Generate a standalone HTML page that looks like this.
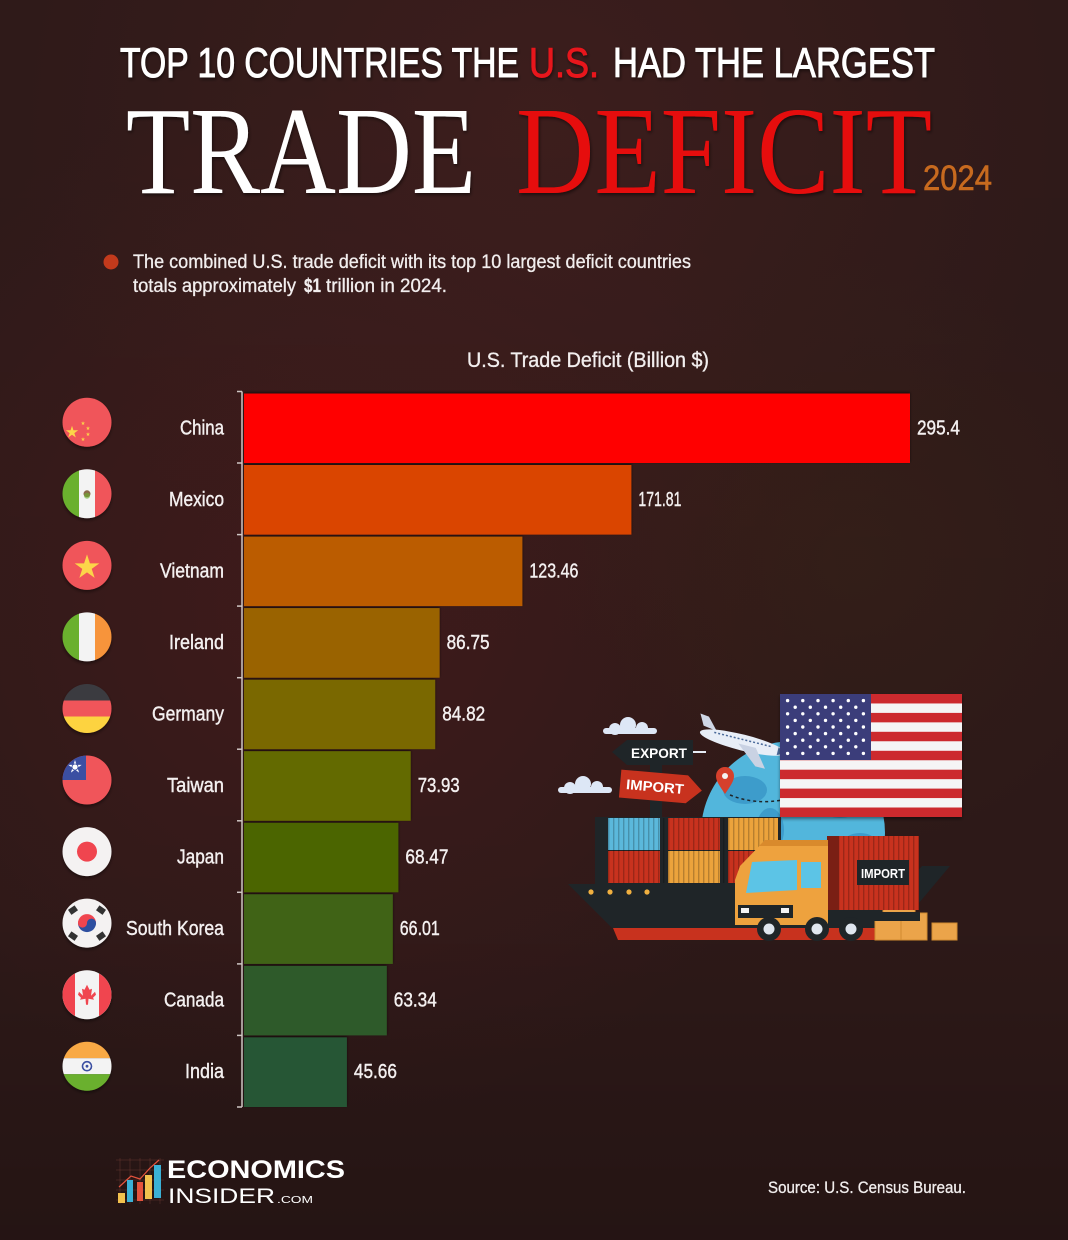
<!DOCTYPE html>
<html><head><meta charset="utf-8"><style>
html,body{margin:0;padding:0;background:#2e1918;}
svg{display:block;}
</style></head><body>
<svg width="1068" height="1240" viewBox="0 0 1068 1240" xmlns="http://www.w3.org/2000/svg">
<defs>
<radialGradient id="bg1" cx="330" cy="600" r="520" gradientUnits="userSpaceOnUse">
<stop offset="0" stop-color="#461c1d" stop-opacity="0.8"/><stop offset="1" stop-color="#461c1d" stop-opacity="0"/></radialGradient>
<radialGradient id="bg2" cx="540" cy="130" r="520" gradientUnits="userSpaceOnUse">
<stop offset="0" stop-color="#3e1e1d" stop-opacity="0.9"/><stop offset="1" stop-color="#3e1e1d" stop-opacity="0"/></radialGradient>
<radialGradient id="bg4" cx="850" cy="560" r="300" gradientUnits="userSpaceOnUse">
<stop offset="0" stop-color="#3a2418" stop-opacity="0.5"/><stop offset="1" stop-color="#3a2418" stop-opacity="0"/></radialGradient>
<linearGradient id="bg3" x1="0" y1="0" x2="0" y2="1">
<stop offset="0" stop-color="#000" stop-opacity="0"/><stop offset="0.75" stop-color="#000" stop-opacity="0.05"/><stop offset="1" stop-color="#000" stop-opacity="0.22"/></linearGradient>
<filter id="bs" x="-5%" y="-20%" width="110%" height="140%"><feDropShadow dx="0" dy="-1" stdDeviation="1.4" flood-color="#000" flood-opacity="0.6"/></filter>
<filter id="fs" x="-30%" y="-30%" width="160%" height="160%"><feDropShadow dx="0" dy="2" stdDeviation="1.5" flood-color="#000" flood-opacity="0.45"/></filter>
<filter id="ts" x="-5%" y="-10%" width="110%" height="130%"><feDropShadow dx="1" dy="2" stdDeviation="1.5" flood-color="#000" flood-opacity="0.5"/></filter>
<clipPath id="fc"><circle cx="0" cy="0" r="24.5"/></clipPath>
<clipPath id="gc"><circle cx="793" cy="833" r="92"/></clipPath>
<path id="star" d="M0,-1 L0.2245,-0.309 L0.951,-0.309 L0.363,0.118 L0.588,0.809 L0,0.382 L-0.588,0.809 L-0.363,0.118 L-0.951,-0.309 L-0.2245,-0.309 Z"/>
<pattern id="ribs" width="5" height="10" patternUnits="userSpaceOnUse"><rect x="3" y="0" width="1.4" height="10" fill="#000" fill-opacity="0.22"/></pattern>
</defs>

<!-- background -->
<rect width="1068" height="1240" fill="#2f1a19"/>
<rect width="1068" height="1240" fill="url(#bg1)"/>
<rect width="1068" height="1240" fill="url(#bg2)"/>
<rect width="1068" height="1240" fill="url(#bg4)"/>
<rect width="1068" height="1240" fill="url(#bg3)"/>

<!-- Title -->
<g font-family="'Liberation Sans Narrow','Liberation Sans',sans-serif" font-weight="400" font-size="42" filter="url(#ts)" stroke-width="0.9">
<text x="120" y="77" fill="#ffffff" stroke="#ffffff" textLength="399" lengthAdjust="spacingAndGlyphs">TOP 10 COUNTRIES THE</text>
<text x="529" y="77" fill="#e8141b" stroke="#e8141b" textLength="70" lengthAdjust="spacingAndGlyphs">U.S.</text>
<text x="613" y="77" fill="#ffffff" stroke="#ffffff" textLength="322" lengthAdjust="spacingAndGlyphs">HAD THE LARGEST</text>
</g>
<g font-family="'Liberation Serif',serif" font-size="125" filter="url(#ts)">
<text x="126" y="193" fill="#ffffff" textLength="350" lengthAdjust="spacingAndGlyphs">TRADE</text>
<text x="516" y="193" fill="#e60c0c" textLength="416" lengthAdjust="spacingAndGlyphs">DEFICIT</text>
</g>
<text x="923" y="190" fill="#c76a1f" font-family="'Liberation Sans Narrow','Liberation Sans',sans-serif" font-weight="400" stroke="#c76a1f" stroke-width="0.6" font-size="35" textLength="69" lengthAdjust="spacingAndGlyphs">2024</text>

<!-- subtitle -->
<circle cx="111" cy="262" r="7.5" fill="#c23a1c"/>
<g font-family="'Liberation Sans Narrow','Liberation Sans',sans-serif" font-size="19" fill="#f2eeee" stroke="#f2eeee" stroke-width="0.3">
<text x="133" y="268" textLength="558" lengthAdjust="spacingAndGlyphs">The combined U.S. trade deficit with its top 10 largest deficit countries</text>
<text x="133" y="292" textLength="163" lengthAdjust="spacingAndGlyphs">totals approximately</text>
<text x="304" y="292" font-weight="700" textLength="17" lengthAdjust="spacingAndGlyphs">$1</text>
<text x="326" y="292" textLength="121" lengthAdjust="spacingAndGlyphs">trillion in 2024.</text>
</g>

<!-- chart title -->
<text x="467" y="367" fill="#f2eeee" stroke="#f2eeee" stroke-width="0.35" font-family="'Liberation Sans Narrow','Liberation Sans',sans-serif" font-size="21" textLength="242" lengthAdjust="spacingAndGlyphs">U.S. Trade Deficit (Billion $)</text>

<!-- bars -->
<g filter="url(#bs)">
<rect x="244" y="393.5" width="666" height="69.5" fill="#ff0000"/>
<rect x="244" y="465" width="387.4" height="69.6" fill="#da4500"/>
<rect x="244" y="536.6" width="278.4" height="69.5" fill="#bb5c00"/>
<rect x="244" y="608.1" width="195.6" height="69.6" fill="#9a6400"/>
<rect x="244" y="679.7" width="191.2" height="69.5" fill="#7a6800"/>
<rect x="244" y="751.2" width="166.7" height="69.6" fill="#636b00"/>
<rect x="244" y="822.8" width="154.4" height="69.5" fill="#4b6500"/>
<rect x="244" y="894.3" width="148.8" height="69.6" fill="#3f6418"/>
<rect x="244" y="965.9" width="142.8" height="69.5" fill="#2e5a2a"/>
<rect x="244" y="1037.4" width="102.9" height="69.6" fill="#285636"/>
</g>

<!-- axis -->
<g stroke="#cfc6c4" stroke-width="1.5">
<line x1="242" y1="391.5" x2="242" y2="1107"/>
<line x1="237" y1="391.5" x2="242" y2="391.5"/>
<line x1="237" y1="463" x2="242" y2="463"/>
<line x1="237" y1="534.6" x2="242" y2="534.6"/>
<line x1="237" y1="606.1" x2="242" y2="606.1"/>
<line x1="237" y1="677.7" x2="242" y2="677.7"/>
<line x1="237" y1="749.2" x2="242" y2="749.2"/>
<line x1="237" y1="820.8" x2="242" y2="820.8"/>
<line x1="237" y1="892.3" x2="242" y2="892.3"/>
<line x1="237" y1="963.9" x2="242" y2="963.9"/>
<line x1="237" y1="1035.4" x2="242" y2="1035.4"/>
<line x1="237" y1="1107" x2="242" y2="1107"/>
</g>

<!-- labels -->
<g font-family="'Liberation Sans Narrow','Liberation Sans',sans-serif" font-size="20" fill="#f4f0f0" stroke="#f4f0f0" stroke-width="0.4" text-anchor="end">
<text x="224" y="434.3" textLength="44" lengthAdjust="spacingAndGlyphs">China</text>
<text x="224" y="505.8" textLength="55" lengthAdjust="spacingAndGlyphs">Mexico</text>
<text x="224" y="577.4" textLength="64" lengthAdjust="spacingAndGlyphs">Vietnam</text>
<text x="224" y="648.9" textLength="55" lengthAdjust="spacingAndGlyphs">Ireland</text>
<text x="224" y="720.5" textLength="72" lengthAdjust="spacingAndGlyphs">Germany</text>
<text x="224" y="792" textLength="57" lengthAdjust="spacingAndGlyphs">Taiwan</text>
<text x="224" y="863.6" textLength="47" lengthAdjust="spacingAndGlyphs">Japan</text>
<text x="224" y="935.1" textLength="98" lengthAdjust="spacingAndGlyphs">South Korea</text>
<text x="224" y="1006.7" textLength="60" lengthAdjust="spacingAndGlyphs">Canada</text>
<text x="224" y="1078.2" textLength="39" lengthAdjust="spacingAndGlyphs">India</text>
</g>

<!-- values -->
<g font-family="'Liberation Sans Narrow','Liberation Sans',sans-serif" font-size="20" fill="#f4f0f0" stroke="#f4f0f0" stroke-width="0.4">
<text x="917" y="434.3" textLength="43" lengthAdjust="spacingAndGlyphs">295.4</text>
<text x="638.4" y="505.8" textLength="43" lengthAdjust="spacingAndGlyphs">171.81</text>
<text x="529.4" y="577.4" textLength="49" lengthAdjust="spacingAndGlyphs">123.46</text>
<text x="446.6" y="648.9" textLength="43" lengthAdjust="spacingAndGlyphs">86.75</text>
<text x="442.2" y="720.5" textLength="43" lengthAdjust="spacingAndGlyphs">84.82</text>
<text x="417.7" y="792" textLength="42" lengthAdjust="spacingAndGlyphs">73.93</text>
<text x="405.4" y="863.6" textLength="43" lengthAdjust="spacingAndGlyphs">68.47</text>
<text x="399.8" y="935.1" textLength="40" lengthAdjust="spacingAndGlyphs">66.01</text>
<text x="393.8" y="1006.7" textLength="43" lengthAdjust="spacingAndGlyphs">63.34</text>
<text x="353.9" y="1078.2" textLength="43" lengthAdjust="spacingAndGlyphs">45.66</text>
</g>

<!-- flags -->
<g filter="url(#fs)">
<g transform="translate(87,422.3)"><g clip-path="url(#fc)">
<rect x="-25" y="-25" width="50" height="50" fill="#f0545a"/>
<use href="#star" transform="translate(-15,10) scale(6.5)" fill="#fcd54a"/>
<use href="#star" transform="translate(-4,1) scale(2.2)" fill="#fcd54a"/>
<use href="#star" transform="translate(1,6) scale(2.2)" fill="#fcd54a"/>
<use href="#star" transform="translate(1,12) scale(2.2)" fill="#fcd54a"/>
<use href="#star" transform="translate(-4,17) scale(2.2)" fill="#fcd54a"/>
</g></g>
<g transform="translate(87,493.8)"><g clip-path="url(#fc)">
<rect x="-25" y="-25" width="17" height="50" fill="#6ab02e"/>
<rect x="-8" y="-25" width="16" height="50" fill="#f3f3f3"/>
<rect x="8" y="-25" width="17" height="50" fill="#f0545a"/>
<circle cx="0" cy="0" r="3.5" fill="#8a6a4a"/><circle cx="0" cy="2" r="3" fill="#6ab02e" fill-opacity="0.6"/>
</g></g>
<g transform="translate(87,565.4)"><g clip-path="url(#fc)">
<rect x="-25" y="-25" width="50" height="50" fill="#f0545a"/>
<use href="#star" transform="translate(0,2) scale(13)" fill="#fcd54a"/>
</g></g>
<g transform="translate(87,636.9)"><g clip-path="url(#fc)">
<rect x="-25" y="-25" width="17" height="50" fill="#6ab02e"/>
<rect x="-8" y="-25" width="16" height="50" fill="#f3f3f3"/>
<rect x="8" y="-25" width="17" height="50" fill="#f7943a"/>
</g></g>
<g transform="translate(87,708.5)"><g clip-path="url(#fc)">
<rect x="-25" y="-25" width="50" height="17" fill="#3b3a40"/>
<rect x="-25" y="-8" width="50" height="16" fill="#f0545a"/>
<rect x="-25" y="8" width="50" height="17" fill="#fdd340"/>
</g></g>
<g transform="translate(87,780)"><g clip-path="url(#fc)">
<rect x="-25" y="-25" width="50" height="50" fill="#f0545a"/>
<rect x="-25" y="-25" width="24" height="25" fill="#3b4fa2"/>
<use href="#star" transform="translate(-12,-13) scale(7)" fill="#ffffff"/>
<circle cx="-12" cy="-13" r="3.5" fill="#3b4fa2"/><circle cx="-12" cy="-13" r="2.6" fill="#ffffff"/>
</g></g>
<g transform="translate(87,851.6)"><g clip-path="url(#fc)">
<rect x="-25" y="-25" width="50" height="50" fill="#f4f2f2"/>
<circle cx="0" cy="0" r="10" fill="#f0454f"/>
</g></g>
<g transform="translate(87,923.1)"><g clip-path="url(#fc)">
<rect x="-25" y="-25" width="50" height="50" fill="#f4f2f2"/>
<path d="M-9,0 A9,9 0 0 1 9,0 Z" fill="#f0454f"/>
<path d="M-9,0 A9,9 0 0 0 9,0 Z" fill="#2f4fa0"/>
<circle cx="-4.5" cy="0" r="4.5" fill="#f0454f"/>
<circle cx="4.5" cy="0" r="4.5" fill="#2f4fa0"/>
<g fill="#333">
<rect x="-18" y="-16" width="8" height="6" transform="rotate(-35 -14 -13)"/>
<rect x="10" y="-16" width="8" height="6" transform="rotate(35 14 -13)"/>
<rect x="-18" y="10" width="8" height="6" transform="rotate(35 -14 13)"/>
<rect x="10" y="10" width="8" height="6" transform="rotate(-35 14 13)"/>
</g>
</g></g>
<g transform="translate(87,994.7)"><g clip-path="url(#fc)">
<rect x="-25" y="-25" width="50" height="50" fill="#f3f3f3"/>
<rect x="-25" y="-25" width="13" height="50" fill="#f0454f"/>
<rect x="12" y="-25" width="13" height="50" fill="#f0454f"/>
<path d="M0,-10 L2.5,-5 L5,-6 L4,1 L8,-3 L9,0 L6,3 L7,5 L1.5,4 L1,10 L-1,10 L-1.5,4 L-7,5 L-6,3 L-9,0 L-8,-3 L-4,1 L-5,-6 L-2.5,-5 Z" fill="#f0454f"/>
</g></g>
<g transform="translate(87,1066.2)"><g clip-path="url(#fc)">
<rect x="-25" y="-25" width="50" height="17" fill="#f8a945"/>
<rect x="-25" y="-8" width="50" height="16" fill="#f3f3f3"/>
<rect x="-25" y="8" width="50" height="17" fill="#6ab02e"/>
<circle cx="0" cy="0" r="4.5" fill="none" stroke="#3b4fa2" stroke-width="1.6"/>
<circle cx="0" cy="0" r="1.4" fill="#3b4fa2"/>
</g></g>
</g>

<!-- Illustration -->
<g fill="#dde7f6">
<circle cx="615" cy="729" r="6"/><circle cx="628" cy="725" r="8"/><circle cx="642" cy="728" r="6"/>
<rect x="603" y="728" width="54" height="6" rx="3"/>
<circle cx="570" cy="788" r="6"/><circle cx="583" cy="784" r="8"/><circle cx="597" cy="787" r="6"/>
<rect x="558" y="787" width="54" height="6" rx="3"/>
</g>
<circle cx="793" cy="833" r="92" fill="#52b6dc"/>
<g clip-path="url(#gc)" fill="#3d9ccb">
<ellipse cx="745" cy="790" rx="22" ry="14"/>
<ellipse cx="770" cy="830" rx="14" ry="22"/>
<ellipse cx="840" cy="800" rx="25" ry="18"/>
<ellipse cx="860" cy="845" rx="18" ry="12"/>
<ellipse cx="720" cy="840" rx="10" ry="16"/>
</g>
<path d="M730,795 Q755,805 782,800" fill="none" stroke="#1f2528" stroke-width="1.5" stroke-dasharray="3 3"/>
<path d="M725,794 C719,785 716,781 716,776 A9,9 0 1 1 734,776 C734,781 731,785 725,794 Z" fill="#d6402c"/>
<circle cx="725" cy="776" r="3" fill="#f4f4f4"/>
<g transform="rotate(14 740 745)">
<path d="M700,735 L694,724 L703,725 L714,737 Z" fill="#cfd7e6"/>
<ellipse cx="742" cy="742" rx="44" ry="8" fill="#e8eef7"/>
<path d="M738,744 L760,762 L770,762 L756,744 Z" fill="#c9d2e3"/>
<line x1="712" y1="739" x2="770" y2="739" stroke="#4a6a9a" stroke-width="1.5" stroke-dasharray="2 2"/>
<path d="M778,738 L786,742 L778,746 Z" fill="#4a6a9a"/>
</g>
<rect x="650" y="740" width="12" height="80" fill="#1f2528"/>
<polygon points="612,752 627,740 693,740 693,765 627,765" fill="#1f2528"/>
<text x="659" y="758" fill="#ffffff" font-family="'Liberation Sans',sans-serif" font-weight="700" font-size="14" text-anchor="middle" textLength="56" lengthAdjust="spacingAndGlyphs">EXPORT</text>
<line x1="693" y1="752" x2="706" y2="752" stroke="#e6ecf5" stroke-width="2"/>
<g transform="rotate(5 660 787)">
<polygon points="620,773 687,773 702,787 687,801 620,801" fill="#c8321e"/>
<text x="655" y="792" fill="#ffffff" font-family="'Liberation Sans',sans-serif" font-weight="700" font-size="14" text-anchor="middle" textLength="58" lengthAdjust="spacingAndGlyphs">IMPORT</text>
</g>
<g filter="url(#fs)">
<rect x="780" y="694" width="182" height="123" fill="#f5f5f5"/>
<g fill="#cc2a2f">
<rect x="780" y="694" width="182" height="9.46"/>
<rect x="780" y="712.9" width="182" height="9.46"/>
<rect x="780" y="731.8" width="182" height="9.46"/>
<rect x="780" y="750.8" width="182" height="9.46"/>
<rect x="780" y="769.7" width="182" height="9.46"/>
<rect x="780" y="788.6" width="182" height="9.46"/>
<rect x="780" y="807.5" width="182" height="9.5"/>
</g>
<rect x="780" y="694" width="91" height="66" fill="#3a3c7a"/>
<g fill="#ffffff">
<circle cx="787.6" cy="700.6" r="1.7"/><circle cx="802.8" cy="700.6" r="1.7"/><circle cx="818" cy="700.6" r="1.7"/><circle cx="833.1" cy="700.6" r="1.7"/><circle cx="848.3" cy="700.6" r="1.7"/><circle cx="863.4" cy="700.6" r="1.7"/>
<circle cx="795.2" cy="707.2" r="1.7"/><circle cx="810.3" cy="707.2" r="1.7"/><circle cx="825.5" cy="707.2" r="1.7"/><circle cx="840.7" cy="707.2" r="1.7"/><circle cx="855.8" cy="707.2" r="1.7"/>
<circle cx="787.6" cy="713.8" r="1.7"/><circle cx="802.8" cy="713.8" r="1.7"/><circle cx="818" cy="713.8" r="1.7"/><circle cx="833.1" cy="713.8" r="1.7"/><circle cx="848.3" cy="713.8" r="1.7"/><circle cx="863.4" cy="713.8" r="1.7"/>
<circle cx="795.2" cy="720.4" r="1.7"/><circle cx="810.3" cy="720.4" r="1.7"/><circle cx="825.5" cy="720.4" r="1.7"/><circle cx="840.7" cy="720.4" r="1.7"/><circle cx="855.8" cy="720.4" r="1.7"/>
<circle cx="787.6" cy="727" r="1.7"/><circle cx="802.8" cy="727" r="1.7"/><circle cx="818" cy="727" r="1.7"/><circle cx="833.1" cy="727" r="1.7"/><circle cx="848.3" cy="727" r="1.7"/><circle cx="863.4" cy="727" r="1.7"/>
<circle cx="795.2" cy="733.6" r="1.7"/><circle cx="810.3" cy="733.6" r="1.7"/><circle cx="825.5" cy="733.6" r="1.7"/><circle cx="840.7" cy="733.6" r="1.7"/><circle cx="855.8" cy="733.6" r="1.7"/>
<circle cx="787.6" cy="740.2" r="1.7"/><circle cx="802.8" cy="740.2" r="1.7"/><circle cx="818" cy="740.2" r="1.7"/><circle cx="833.1" cy="740.2" r="1.7"/><circle cx="848.3" cy="740.2" r="1.7"/><circle cx="863.4" cy="740.2" r="1.7"/>
<circle cx="795.2" cy="746.8" r="1.7"/><circle cx="810.3" cy="746.8" r="1.7"/><circle cx="825.5" cy="746.8" r="1.7"/><circle cx="840.7" cy="746.8" r="1.7"/><circle cx="855.8" cy="746.8" r="1.7"/>
<circle cx="787.6" cy="753.4" r="1.7"/><circle cx="802.8" cy="753.4" r="1.7"/><circle cx="818" cy="753.4" r="1.7"/><circle cx="833.1" cy="753.4" r="1.7"/><circle cx="848.3" cy="753.4" r="1.7"/><circle cx="863.4" cy="753.4" r="1.7"/>
</g>
</g>
<rect x="595" y="817" width="186" height="68" fill="#1f2528"/>
<polygon points="568,884 905,884 922,866 950,866 898,928 612,928" fill="#1f2528"/>
<polygon points="613,928 898,928 890,940 618,940" fill="#c8321e"/>
<g fill="#f0b040">
<circle cx="591" cy="892" r="2.6"/><circle cx="610" cy="892" r="2.6"/><circle cx="629" cy="892" r="2.6"/><circle cx="647" cy="892" r="2.6"/>
</g>
<rect x="608" y="818" width="52" height="32" fill="#5bb8dc"/>
<rect x="668" y="818" width="52" height="32" fill="#c8321e"/>
<rect x="728" y="818" width="50" height="32" fill="#eba33c"/>
<rect x="608" y="851" width="52" height="32" fill="#c8321e"/>
<rect x="668" y="851" width="52" height="32" fill="#eba33c"/>
<rect x="728" y="851" width="50" height="32" fill="#c8321e"/>
<rect x="608" y="818" width="170" height="65" fill="url(#ribs)"/>
<g fill="#eba44a" stroke="#d08a30" stroke-width="1">
<rect x="883" y="897" width="32" height="16"/>
<rect x="875" y="913" width="26" height="27"/>
<rect x="901" y="913" width="26" height="27"/>
<rect x="932" y="923" width="25" height="17"/>
</g>
<rect x="827" y="836" width="92" height="74" fill="#c8321e"/>
<rect x="827" y="836" width="92" height="74" fill="url(#ribs)"/>
<rect x="827" y="836" width="12" height="74" fill="#7a1f14"/>
<rect x="857" y="860" width="52" height="25" fill="#1f2528"/>
<text x="883" y="878" fill="#ffffff" font-family="'Liberation Sans',sans-serif" font-weight="700" font-size="13" text-anchor="middle" textLength="44" lengthAdjust="spacingAndGlyphs">IMPORT</text>
<rect x="760" y="912" width="160" height="9" fill="#1f2528"/>
<path d="M740,866 L765,840 L828,840 L828,925 L735,925 L735,880 Z" fill="#eea23e"/>
<path d="M765,840 L828,840 L828,846 L759,846 Z" fill="#d98a2c"/>
<path d="M752,862 L797,860 L797,890 L746,893 Z" fill="#5cc4e6"/>
<rect x="801" y="862" width="20" height="26" fill="#5cc4e6"/>
<rect x="738" y="905" width="55" height="13" fill="#1f2528"/>
<rect x="741" y="908" width="8" height="5" fill="#f4f4f4"/>
<rect x="781" y="908" width="8" height="5" fill="#f4f4f4"/>
<g fill="#1f2528"><circle cx="769" cy="929" r="12"/><circle cx="817" cy="929" r="12"/><circle cx="851" cy="929" r="12"/></g>
<g fill="#dfe6ef"><circle cx="769" cy="929" r="5.5"/><circle cx="817" cy="929" r="5.5"/><circle cx="851" cy="929" r="5.5"/></g>

<!-- logo -->
<g stroke="#8a4a40" stroke-width="0.5" stroke-opacity="0.6">
<line x1="116" y1="1160" x2="164" y2="1160"/><line x1="116" y1="1170" x2="164" y2="1170"/><line x1="116" y1="1180" x2="164" y2="1180"/><line x1="116" y1="1190" x2="164" y2="1190"/><line x1="116" y1="1200" x2="164" y2="1200"/>
<line x1="120" y1="1158" x2="120" y2="1204"/><line x1="130" y1="1158" x2="130" y2="1204"/><line x1="140" y1="1158" x2="140" y2="1204"/><line x1="150" y1="1158" x2="150" y2="1204"/><line x1="160" y1="1158" x2="160" y2="1204"/>
</g>
<path d="M119,1187 L131,1176 L140,1179 L150,1168 L159,1160" fill="none" stroke="#e5533d" stroke-width="1.2"/>
<rect x="118" y="1193" width="7" height="10" fill="#f2c14e"/>
<rect x="127" y="1180" width="6" height="22" fill="#3bb1d6"/>
<rect x="137" y="1182" width="6" height="19" fill="#e5533d"/>
<rect x="145" y="1175" width="7" height="24" fill="#f2c14e"/>
<rect x="154" y="1165" width="7" height="33" fill="#3bb1d6"/>
<text x="167" y="1178" fill="#ffffff" font-family="'Liberation Sans',sans-serif" font-weight="700" font-size="25" textLength="178" lengthAdjust="spacingAndGlyphs">ECONOMICS</text>
<text x="168" y="1203" fill="#ffffff" font-family="'Liberation Sans',sans-serif" font-size="21" textLength="107" lengthAdjust="spacingAndGlyphs">INSIDER</text>
<text x="277" y="1203" fill="#ffffff" font-family="'Liberation Sans',sans-serif" font-size="10" textLength="36" lengthAdjust="spacingAndGlyphs">.COM</text>

<!-- source -->
<text x="768" y="1193" fill="#f2eeee" stroke="#f2eeee" stroke-width="0.3" font-family="'Liberation Sans Narrow','Liberation Sans',sans-serif" font-size="17" textLength="198" lengthAdjust="spacingAndGlyphs">Source: U.S. Census Bureau.</text>
</svg>
</body></html>
